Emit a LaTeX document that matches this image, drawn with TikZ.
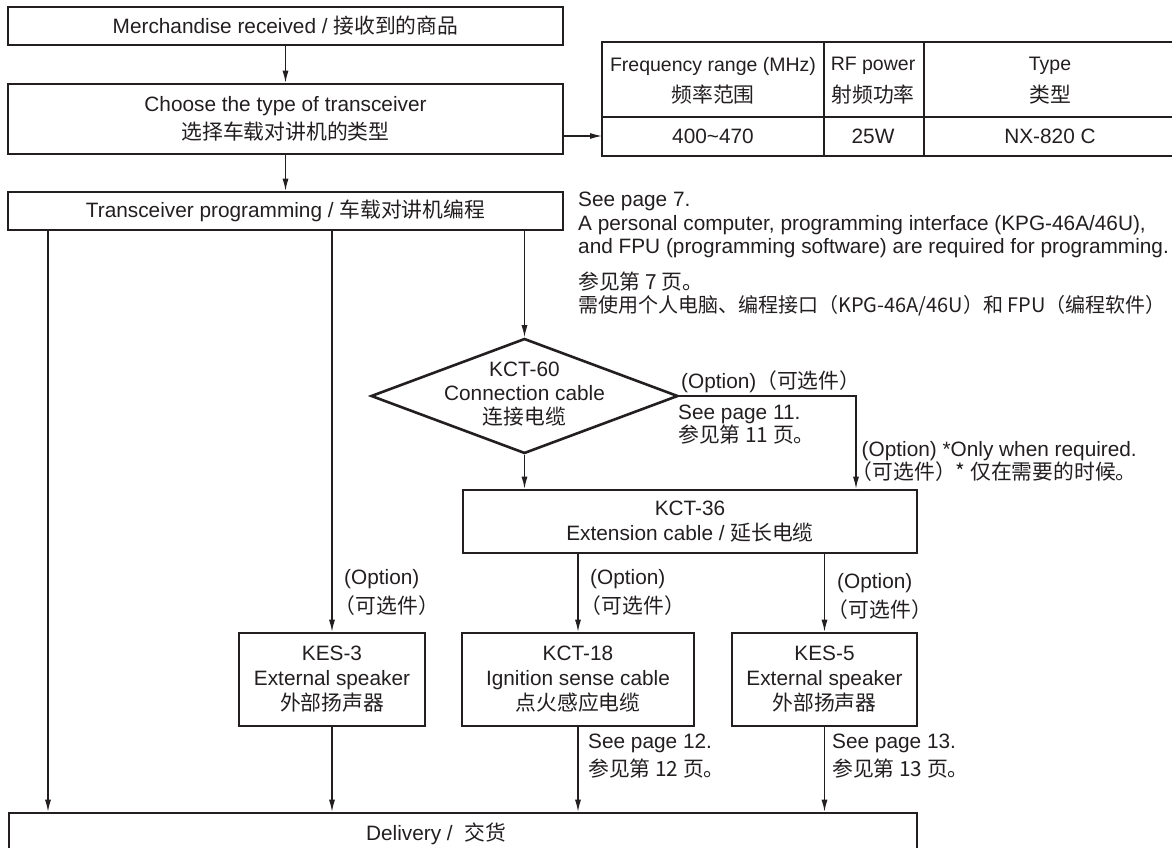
\documentclass[tikz,border=0pt]{standalone}
\usepackage{fontspec}
\setmainfont{Liberation Sans}
\newfontfamily\cjk{Noto Sans CJK SC}
\usetikzlibrary{arrows.meta,shapes.geometric}
\newcommand\zh[1]{{\cjk #1}}
\definecolor{ink}{HTML}{231F20}
\begin{document}
\begin{tikzpicture}[x=1pt,y=-1pt,
  every node/.style={font=\fontsize{20.8}{25}\selectfont, text=ink},
  box/.style={draw=ink, line width=2.6pt, inner sep=0pt, align=center},
  conn/.style={draw=ink, line width=1.2pt},
  arr/.style={conn, -{Latex[length=12pt,width=6pt]}},
  lbl/.style={anchor=west, align=left, inner sep=0pt},
  hdr/.style={font=\fontsize{19.5}{25}\selectfont},
]
\clip (0,0) rectangle (1172,848);
\fill[white] (0,0) rectangle (1172,848);

% main boxes
\node[box, minimum width=555, minimum height=38] (b1) at (285.5,26) {Merchandise received / \zh{接收到的商品}};
\node[box, minimum width=555, minimum height=70, font=\fontsize{20.8}{28}\selectfont] (b2) at (285.5,119) {Choose the type of transceiver\\\zh{选择车载对讲机的类型}};
\node[box, minimum width=555, minimum height=38] (b3) at (285.5,211) {Transceiver programming / \zh{车载对讲机编程}};

% table
\coordinate (tbl) at (602,136);
\draw[ink, line width=2.6pt] (602,42) rectangle (1182,156);
\draw[conn] (602,117) -- (1182,117);
\draw[conn] (824,42) -- (824,156);
\draw[conn] (924,42) -- (924,156);
\node[hdr] (t11) at (713,66) {Frequency range (MHz)};
\node (t12) at (713,95) {\zh{频率范围}};
\node[hdr] (t21) at (873,66) {RF power};
\node (t22) at (873,95) {\zh{射频功率}};
\node[hdr] (t31) at (1050,66) {Type};
\node (t32) at (1050,95) {\zh{类型}};
\node (t13) at (713,136) {400\textasciitilde470};
\node (t23) at (873,136) {25W};
\node (t33) at (1050,136) {NX-820 C};

% programming notes
\node[lbl] (n1) at (578,201) {See page 7.};
\node[lbl] (n2) at (578,225) {A personal computer, programming interface (KPG-46A/46U),};
\node[lbl] (n3) at (578,248) {and FPU (programming software) are required for programming.};
\node[lbl] (n4) at (578,282) {\zh{参见第 7 页。}};
\node[lbl, font=\fontsize{20}{25}\selectfont] (n5) at (578,306) {\zh{需使用个人电脑、编程接口（KPG-46A/46U）和 FPU（编程软件）}};

% diamond
\node[diamond, draw=ink, line width=2.6pt, minimum width=307, minimum height=115, inner sep=0pt] (dia) at (524.5,396) {};
\node[align=center, font=\fontsize{20.8}{24}\selectfont] (diatxt) at (524.5,394) {KCT-60\\Connection cable\\\zh{连接电缆}};
\coordinate (corner) at (856,396);
\node[lbl] (o1) at (681,382) {(Option)\zh{（可选件）}};
\node[lbl, font=\fontsize{20.8}{23}\selectfont] (s11) at (678,425) {See page 11.\\\zh{参见第 11 页。}};
\node[lbl, font=\fontsize{20.8}{23}\selectfont] (o2) at (858,461) {\,(Option) *Only when required.\\\zh{\kern-0.3em（可选件）* 仅在需要的时候。}};

% KCT-36
\node[box, minimum width=454, minimum height=63] (k36) at (690,521.5) {KCT-36\\Extension cable / \zh{延长电缆}};

% option boxes
\node[box, minimum width=186, minimum height=93] (k3) at (332,679.5) {KES-3\\External speaker\\\zh{外部扬声器}};
\node[box, minimum width=232, minimum height=93] (k18) at (578,679.5) {KCT-18\\Ignition sense cable\\\zh{点火感应电缆}};
\node[box, minimum width=185, minimum height=93] (k5) at (824.5,679.5) {KES-5\\External speaker\\\zh{外部扬声器}};

\node[lbl, font=\fontsize{20.8}{29}\selectfont] (o3) at (344,592) {(Option)\\\zh{\kern-0.45em（可选件）}};
\node[lbl, font=\fontsize{20.8}{29}\selectfont] (o4) at (590,592) {(Option)\\\zh{\kern-0.45em（可选件）}};
\node[lbl, font=\fontsize{20.8}{29}\selectfont] (o5) at (837,596) {(Option)\\\zh{\kern-0.45em（可选件）}};

\node[lbl, font=\fontsize{20.8}{28}\selectfont] (s12) at (588,756) {See page 12.\\\zh{参见第 12 页。}};
\node[lbl, font=\fontsize{20.8}{28}\selectfont] (s13) at (832,756) {See page 13.\\\zh{参见第 13 页。}};

% delivery
\node[box, minimum width=908, minimum height=70] (del) at (463,848) {};
\node (deltxt) at (436,834) {Delivery /\ \ \zh{交货}};

% connectors
\coordinate (xL) at (48,0);
\draw[arr] (b1) -- (b2);
\draw[arr] (b2) -- (b3);
\draw[arr] (b2.east |- tbl) -- (tbl);
\draw[arr] (b3.south -| xL) -- (del.north -| xL);
\draw[arr] (b3.south -| k3.north) -- (k3.north);
\draw[arr] (b3.south -| dia.north) -- (dia.north);
\draw[arr] (dia.south) -- (dia.south |- k36.north);
\draw[arr] (dia.east) -- (corner) -- (corner |- k36.north);
\draw[arr] (k36.south -| k18.north) -- (k18.north);
\draw[arr] (k36.south -| k5.north) -- (k5.north);
\draw[arr] (k3.south) -- (k3.south |- del.north);
\draw[arr] (k18.south) -- (k18.south |- del.north);
\draw[arr] (k5.south) -- (k5.south |- del.north);
\end{tikzpicture}
\end{document}
